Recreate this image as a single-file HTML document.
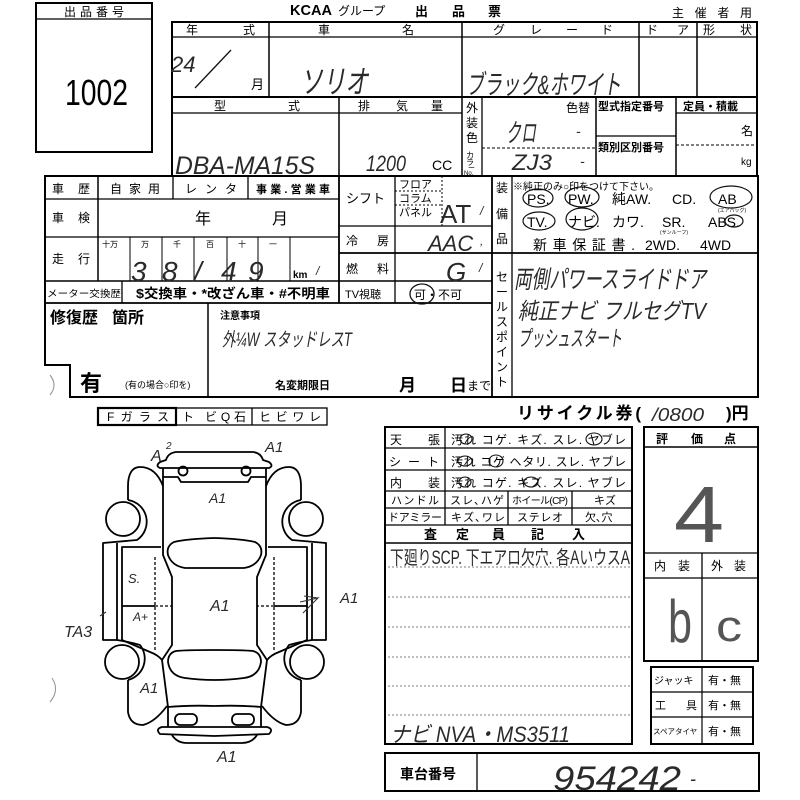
<!DOCTYPE html>
<html><head><meta charset="utf-8"><style>
html,body{margin:0;padding:0;background:#fff;width:800px;height:800px;overflow:hidden}
svg{display:block}
text{font-family:"Liberation Sans","Noto Sans CJK JP",sans-serif;fill:#000}
.p{font-size:12px}
.b{font-weight:bold}
.h text,.h{font-family:"Liberation Sans","Noto Sans CJK JP",sans-serif;font-style:italic;fill:#2a2a2a}
.big{fill:#555 !important}
</style></head><body>
<svg width="800" height="800" viewBox="0 0 800 800" xmlns="http://www.w3.org/2000/svg">
<g fill="none" stroke="#000">
<rect x="36" y="3" width="116" height="149" stroke-width="2"/>
<line x1="36" y1="19" x2="152" y2="19" stroke-width="1.3"/>
<rect x="172" y="22" width="585" height="154" stroke-width="2"/>
<line x1="172" y1="37" x2="757" y2="37" stroke-width="1.3"/>
<line x1="172" y1="97" x2="757" y2="97" stroke-width="2"/>
<line x1="172" y1="113" x2="462" y2="113" stroke-width="1.3"/>
<line x1="676" y1="113" x2="757" y2="113" stroke-width="1.3"/>
<line x1="596" y1="136" x2="676" y2="136" stroke-width="1.3"/>
<line x1="269" y1="22" x2="269" y2="97" stroke-width="1.5"/>
<line x1="462" y1="22" x2="462" y2="176" stroke-width="1.5"/>
<line x1="639" y1="22" x2="639" y2="97" stroke-width="1.5"/>
<line x1="697" y1="22" x2="697" y2="97" stroke-width="1.5"/>
<line x1="339" y1="97" x2="339" y2="176" stroke-width="1.5"/>
<line x1="482" y1="97" x2="482" y2="176" stroke-width="1.3"/>
<line x1="596" y1="97" x2="596" y2="176" stroke-width="1.5"/>
<line x1="676" y1="97" x2="676" y2="176" stroke-width="1.5"/>
<line x1="482" y1="148" x2="596" y2="148" stroke-width="1" stroke-dasharray="3,2"/>
<line x1="676" y1="145" x2="757" y2="145" stroke-width="1" stroke-dasharray="3,2"/>
<path d="M45,176 L758,176 L758,397 L70,397 L70,365 L45,365 Z" stroke-width="2"/>
<line x1="98" y1="176" x2="98" y2="281" stroke-width="1.5"/>
<line x1="173" y1="176" x2="173" y2="199" stroke-width="1.3"/>
<line x1="248" y1="176" x2="248" y2="199" stroke-width="1.3"/>
<line x1="339" y1="176" x2="339" y2="303" stroke-width="1.8"/>
<line x1="395" y1="176" x2="395" y2="303" stroke-width="1.3"/>
<line x1="492" y1="176" x2="492" y2="397" stroke-width="1.8"/>
<line x1="512" y1="176" x2="512" y2="397" stroke-width="1.3"/>
<line x1="122" y1="281" x2="122" y2="303" stroke-width="1.3"/>
<line x1="208" y1="303" x2="208" y2="397" stroke-width="1.5"/>
<line x1="45" y1="199" x2="339" y2="199" stroke-width="1.3"/>
<line x1="45" y1="237" x2="339" y2="237" stroke-width="1.3"/>
<line x1="45" y1="281" x2="492" y2="281" stroke-width="1.5"/>
<line x1="45" y1="303" x2="492" y2="303" stroke-width="1.8"/>
<line x1="339" y1="226" x2="492" y2="226" stroke-width="1.3"/>
<line x1="339" y1="253" x2="758" y2="253" stroke-width="1.8"/>
<line x1="130" y1="237" x2="130" y2="281" stroke-width="1"/>
<line x1="162" y1="237" x2="162" y2="281" stroke-width="1"/>
<line x1="194" y1="237" x2="194" y2="281" stroke-width="1"/>
<line x1="227" y1="237" x2="227" y2="281" stroke-width="1"/>
<line x1="258" y1="237" x2="258" y2="281" stroke-width="1"/>
<line x1="290" y1="237" x2="290" y2="281" stroke-width="1"/>
<line x1="442" y1="176" x2="442" y2="226" stroke-width="1" stroke-dasharray="2,2"/>
<line x1="395" y1="191" x2="442" y2="191" stroke-width="1" stroke-dasharray="2,2"/>
<line x1="395" y1="205" x2="442" y2="205" stroke-width="1" stroke-dasharray="2,2"/>
<rect x="98" y="408" width="229" height="17" stroke-width="1.3"/>
<rect x="98" y="408" width="78" height="17" stroke-width="2.2"/>
<line x1="252" y1="408" x2="252" y2="425" stroke-width="1.3"/>
<rect x="385" y="427" width="247" height="317" stroke-width="2"/>
<line x1="385" y1="448" x2="632" y2="448" stroke-width="1.3"/>
<line x1="385" y1="470" x2="632" y2="470" stroke-width="1.3"/>
<line x1="385" y1="491" x2="632" y2="491" stroke-width="1.3"/>
<line x1="385" y1="508" x2="632" y2="508" stroke-width="1.3"/>
<line x1="385" y1="525" x2="632" y2="525" stroke-width="1.3"/>
<line x1="385" y1="543" x2="632" y2="543" stroke-width="1.5"/>
<line x1="445" y1="427" x2="445" y2="525" stroke-width="1.3"/>
<line x1="508" y1="491" x2="508" y2="525" stroke-width="1.3"/>
<line x1="572" y1="491" x2="572" y2="525" stroke-width="1.3"/>
<g stroke-width="0.8" stroke="#555" stroke-dasharray="2,2">
<line x1="388" y1="567" x2="630" y2="567"/>
<line x1="388" y1="597" x2="630" y2="597"/>
<line x1="388" y1="627" x2="630" y2="627"/>
<line x1="388" y1="657" x2="630" y2="657"/>
<line x1="388" y1="686" x2="630" y2="686"/>
<line x1="388" y1="715" x2="630" y2="715"/>
</g>
<rect x="644" y="427" width="114" height="234" stroke-width="2"/>
<line x1="644" y1="447" x2="758" y2="447" stroke-width="1.5"/>
<line x1="644" y1="553" x2="758" y2="553" stroke-width="1.3"/>
<line x1="644" y1="578" x2="758" y2="578" stroke-width="1.3"/>
<line x1="702" y1="553" x2="702" y2="661" stroke-width="1.3"/>
<rect x="651" y="667" width="102" height="77" stroke-width="2"/>
<line x1="651" y1="692" x2="753" y2="692" stroke-width="1.2"/>
<line x1="651" y1="717" x2="753" y2="717" stroke-width="1.2"/>
<line x1="702" y1="667" x2="702" y2="744" stroke-width="1.2"/>
<rect x="385" y="753" width="374" height="38" stroke-width="2"/>
<line x1="477" y1="753" x2="477" y2="791" stroke-width="1.3"/>
</g>

<g fill="none" stroke="#000" stroke-width="1.8" stroke-linejoin="round">
<g id="half">
<path d="M214.5,452 L176,452 Q168,453 166,460 L160,462 Q155,466 160,468 L214.5,468"/>
<path d="M163,468 L163,555 L172,577 L172,645 L162,660 L168,707 L168,727"/>
<path d="M163,477 L178,477 L181,482 L214.5,482"/>
<circle cx="183" cy="471" r="4.5"/>
<path d="M163,486 C158,473 150,467 140,467 C131,467 128,476 128,486 L128,500"/>
<circle cx="123" cy="519" r="17"/>
<path d="M128,500 A22,22 0 0 1 137,540 L103,543 L103,640 L117,640 L117,543"/>
<path d="M161,547 L122,547 L122,640 Q136,646 150,652 Q158,655 162,660"/>
<path d="M117,640 Q130,642 140,645 A22,22 0 0 1 128,680"/>
<circle cx="122" cy="662" r="17"/>
<path d="M128,680 L128,712 Q130,725 143,725 Q155,722 167,706"/>
<path d="M168,707 Q190,705 214.5,706"/>
<rect x="175" y="714" width="22" height="11" rx="5"/>
<path d="M214.5,727 L162,727 Q155,729 160,734 L214.5,736"/>
<path d="M172,735 Q177,743 187,743 L214.5,743"/>
<path d="M214.5,650 Q186,650 176,651 Q168,653 168,662 Q170,676 185,678 Q200,680 214.5,680"/>
<path d="M214.5,538 Q186,539 174,542 Q166,546 168,555 Q172,566 185,568 L214.5,568"/>
<line x1="122" y1="606" x2="155" y2="606"/>
<line x1="155" y1="606" x2="172" y2="606" stroke-dasharray="3,2" stroke-width="1.3"/>
<line x1="155" y1="557" x2="155" y2="652" stroke-dasharray="3,2" stroke-width="1.3"/>
</g>
<use href="#half" transform="translate(429,0) scale(-1,1)"/>
</g>

<text x="290" y="15" class="b" font-size="15" textLength="42" lengthAdjust="spacingAndGlyphs">KCAA</text>
<text x="338" y="15" font-size="12">グループ</text>
<text x="415" y="16" class="b" font-size="13">出</text>
<text x="452" y="16" class="b" font-size="13">品</text>
<text x="488" y="16" class="b" font-size="13">票</text>
<text x="672" y="17" font-size="12" textLength="80">主催者用</text>
<text x="94" y="16" font-size="12" text-anchor="middle" textLength="60">出品番号</text>
<text x="65" y="105" font-size="36" textLength="63" lengthAdjust="spacingAndGlyphs">1002</text>

<g font-size="12">
<text x="186" y="34">年</text><text x="243" y="34">式</text>
<text x="318" y="34">車</text><text x="402" y="34">名</text>
<text x="493" y="34">グ</text><text x="530" y="34">レ</text><text x="566" y="34">ー</text><text x="601" y="34">ド</text>
<text x="646" y="34">ド</text><text x="677" y="34">ア</text>
<text x="703" y="34">形</text><text x="740" y="34">状</text>
<text x="214" y="110">型</text><text x="288" y="110">式</text>
<text x="358" y="110">排</text><text x="396" y="110">気</text><text x="431" y="110">量</text>
<text x="466" y="112">外</text><text x="466" y="127">装</text><text x="466" y="142">色</text>
<text x="566" y="112">色替</text>
<text x="598" y="110" font-size="11" class="b">型式指定番号</text>
<text x="598" y="151" font-size="11" class="b">類別区別番号</text>
<text x="683" y="110" font-size="11" class="b">定員・積載</text>
<text x="741" y="135">名</text>
<text x="741" y="165" font-size="10">kg</text>
<text x="432" y="170" font-size="14">CC</text>
</g>
<text x="466" y="158" font-size="8">カ</text><text x="466" y="165" font-size="8">ラ</text><text x="468" y="170" font-size="7">ー</text><text x="464" y="175" font-size="6">No.</text>

<g class="h">
<text x="171" y="72" font-size="22">24</text>
<text x="251" y="89" font-size="13" style="font-style:normal;fill:#000">月</text>
<text x="300" y="93" font-size="32" textLength="68" lengthAdjust="spacingAndGlyphs">ソリオ</text>
<text x="466" y="94" font-size="27" textLength="155" lengthAdjust="spacingAndGlyphs">ブラック&amp;ホワイト</text>
<text x="175" y="174" font-size="25" textLength="140" lengthAdjust="spacingAndGlyphs">DBA-MA15S</text>
<text x="366" y="171" font-size="22" textLength="40" lengthAdjust="spacingAndGlyphs">1200</text>
<text x="506" y="142" font-size="26" textLength="30" lengthAdjust="spacingAndGlyphs">クロ</text>
<text x="512" y="170" font-size="22" textLength="40" lengthAdjust="spacingAndGlyphs">ZJ3</text>
<text x="576" y="136" font-size="14">-</text><text x="580" y="166" font-size="14">-</text>
</g>
<line x1="195" y1="88" x2="231" y2="50" stroke="#111" stroke-width="1.3"/>

<g font-size="12">
<text x="52" y="193">車</text><text x="78" y="193">歴</text>
<text x="110" y="193" textLength="50">自家用</text>
<text x="185" y="193" textLength="52">レンタ</text>
<text x="256" y="193" font-size="11" class="b" textLength="74">事業.営業車</text>
<text x="52" y="222">車</text><text x="78" y="222">検</text>
<text x="195" y="224" font-size="16">年</text><text x="272" y="224" font-size="16">月</text>
<text x="52" y="263">走</text><text x="78" y="263">行</text>
<text x="102" y="247" font-size="8">十万</text>
<text x="141" y="247" font-size="8">万</text>
<text x="173" y="247" font-size="8">千</text>
<text x="206" y="247" font-size="8">百</text>
<text x="238" y="247" font-size="8">十</text>
<text x="269" y="247" font-size="8">一</text>
<text x="293" y="278" font-size="10" class="b">km</text>
<text x="47" y="297" font-size="9.5" textLength="74" lengthAdjust="spacingAndGlyphs">メーター交換歴</text>
<text x="136" y="298" font-size="13" textLength="194" class="b" lengthAdjust="spacingAndGlyphs">$交換車・*改ざん車・#不明車</text>
<text x="50" y="323" font-size="16" class="b">修復歴</text><text x="112" y="323" font-size="16" class="b">箇所</text>
<text x="80" y="391" font-size="22" class="b">有</text>
<text x="125" y="388" font-size="9">(有の場合○印を)</text>
<text x="220" y="319" font-size="10" class="b">注意事項</text>
<text x="275" y="389" font-size="11" class="b">名変期限日</text>
<text x="399" y="391" font-size="17" class="b">月</text>
<text x="450" y="391" font-size="17" class="b">日</text><text x="467" y="390" font-size="12">まで</text>
<text x="346" y="203" font-size="13">シフト</text>
<text x="399" y="188" font-size="11">フロア</text>
<text x="399" y="202" font-size="11">コラム</text>
<text x="399" y="216" font-size="11">パネル</text>
<text x="346" y="245">冷</text><text x="377" y="245">房</text>
<text x="346" y="273">燃</text><text x="377" y="273">料</text>
<text x="345" y="298" font-size="11">TV視聴</text>
<text x="414" y="299" font-size="12">可・不可</text>
</g>
<g class="h">
<text x="131" y="281" font-size="28">3</text>
<text x="162" y="281" font-size="28">8</text>
<text x="194" y="281" font-size="28">/</text>
<text x="221" y="281" font-size="28">4</text>
<text x="248" y="281" font-size="28">9</text>
<text x="316" y="275" font-size="12">/</text>
<text x="440" y="223" font-size="26" style="font-style:normal">AT</text>
<text x="480" y="215" font-size="12">/</text>
<text x="428" y="251" font-size="22">AAC</text>
<text x="480" y="245" font-size="12">,</text>
<text x="446" y="281" font-size="26">G</text>
<text x="479" y="272" font-size="12">/</text>
<text x="222" y="346" font-size="19" textLength="130" lengthAdjust="spacingAndGlyphs">外¼W スタッドレスT</text>
</g>
<ellipse cx="422" cy="294" rx="12" ry="10" fill="none" stroke="#111" stroke-width="1.3"/>

<g font-size="12">
<text x="496" y="192">装</text><text x="496" y="218">備</text><text x="496" y="243">品</text>
<text x="513" y="190" font-size="10">※純正のみ○印をつけて下さい。</text>
<text x="527" y="204" font-size="14">PS.</text>
<text x="568" y="204" font-size="14">PW.</text>
<text x="612" y="204" font-size="14">純AW.</text>
<text x="672" y="204" font-size="14">CD.</text>
<text x="718" y="204" font-size="14">AB</text>
<text x="718" y="212" font-size="5">(エアバッグ)</text>
<text x="527" y="227" font-size="14">TV.</text>
<text x="568" y="227" font-size="14">ナビ.</text>
<text x="612" y="227" font-size="14">カワ.</text>
<text x="662" y="227" font-size="14">SR.</text>
<text x="708" y="227" font-size="14">ABS.</text>
<text x="660" y="234" font-size="5">(サンルーフ)</text>
<text x="533" y="250" font-size="14" textLength="102">新車保証書.</text>
<text x="645" y="250" font-size="14">2WD.</text>
<text x="700" y="250" font-size="14">4WD</text>
<text x="496" y="281">セ</text><text x="496" y="296">ー</text><text x="496" y="311">ル</text><text x="496" y="326">ス</text>
<text x="496" y="341">ポ</text><text x="496" y="356">イ</text><text x="496" y="371">ン</text><text x="496" y="386">ト</text>
</g>
<g fill="none" stroke="#111" stroke-width="1.2">
<ellipse cx="538" cy="198" rx="15" ry="9"/>
<ellipse cx="582" cy="197" rx="17" ry="10"/>
<ellipse cx="539" cy="221" rx="16" ry="9"/>
<ellipse cx="582" cy="219" rx="16" ry="11"/>
<ellipse cx="731" cy="197" rx="21" ry="11"/>
<ellipse cx="734" cy="221" rx="9" ry="6"/>
</g>
<g class="h" style="font-style:normal">
<text x="514" y="288" font-size="25" textLength="192" lengthAdjust="spacingAndGlyphs">両側パワースライドドア</text>
<text x="518" y="319" font-size="23" textLength="188" lengthAdjust="spacingAndGlyphs">純正ナビ フルセグTV</text>
<text x="518" y="346" font-size="22" textLength="104" lengthAdjust="spacingAndGlyphs">プッシュスタート</text>
</g>

<g font-size="12">
<text x="107" y="421" textLength="62">Fガラス</text>
<text x="182" y="421" textLength="64">ト ビQ石</text>
<text x="259" y="421" textLength="62">ヒビワレ</text>
<text x="517" y="419" font-size="17" class="b" textLength="124">リサイクル券(</text>
<text x="726" y="419" font-size="17" class="b">)円</text>
<text x="390" y="444">天</text><text x="428" y="444">張</text>
<text x="451" y="444" textLength="175">汚れ コゲ. キズ. スレ. ヤブレ</text>
<text x="389" y="466" textLength="50">シート</text>
<text x="451" y="466" textLength="175">汚れ コゲ ヘタリ. スレ. ヤブレ</text>
<text x="390" y="487">内</text><text x="428" y="487">装</text>
<text x="451" y="487" textLength="175">汚れ コゲ. キズ. スレ. ヤブレ</text>
<text x="391" y="504" font-size="11" textLength="48">ハンドル</text>
<text x="450" y="504" font-size="11" textLength="54">スレ､ハゲ</text>
<text x="512" y="504" font-size="10" textLength="56">ホイール(CP)</text>
<text x="594" y="504" font-size="11">キズ</text>
<text x="388" y="521" font-size="11" textLength="54">ドアミラー</text>
<text x="451" y="521" font-size="11" textLength="54">キズ､ワレ</text>
<text x="517" y="521" font-size="11" textLength="46">ステレオ</text>
<text x="585" y="521" font-size="11">欠､穴</text>
<text x="424" y="539" font-size="13" class="b">査</text>
<text x="456" y="539" font-size="13" class="b">定</text>
<text x="492" y="539" font-size="13" class="b">員</text>
<text x="531" y="539" font-size="13" class="b">記</text>
<text x="572" y="539" font-size="13" class="b">入</text>
<text x="656" y="443" class="b">評</text><text x="691" y="443" class="b">価</text><text x="724" y="443" class="b">点</text>
<text x="654" y="570">内</text><text x="678" y="570">装</text>
<text x="711" y="570">外</text><text x="734" y="570">装</text>
<text x="654" y="684" font-size="10">ジャッキ</text>
<text x="708" y="684" font-size="11">有・無</text>
<text x="655" y="709" font-size="11">工</text><text x="686" y="709" font-size="11">具</text>
<text x="708" y="709" font-size="11">有・無</text>
<text x="653" y="734" font-size="7.5">スペアタイヤ</text>
<text x="708" y="735" font-size="11">有・無</text>
<text x="400" y="779" font-size="14" class="b">車台番号</text>
</g>
<g fill="none" stroke="#111" stroke-width="1.1">
<ellipse cx="466" cy="439" rx="6" ry="5"/>
<ellipse cx="594" cy="439" rx="8" ry="6"/>
<ellipse cx="465" cy="461" rx="7" ry="5"/>
<ellipse cx="496" cy="461" rx="7" ry="6"/>
<ellipse cx="465" cy="482" rx="6" ry="5"/>
<ellipse cx="531" cy="482" rx="7" ry="5"/>
</g>
<g class="h">
<text x="652" y="421" font-size="18" textLength="52" lengthAdjust="spacingAndGlyphs">/0800</text>
<text x="390" y="564" font-size="19" textLength="240" lengthAdjust="spacingAndGlyphs" style="font-style:normal">下廻りSCP. 下エアロ欠穴. 各AいウスA</text>
<text x="390" y="742" font-size="22" textLength="180" lengthAdjust="spacingAndGlyphs">ナビ NVA・MS3511</text>
<text class="big" x="674" y="542" font-size="80" textLength="50" lengthAdjust="spacingAndGlyphs" style="font-style:normal">4</text>
<text class="big" x="668" y="642" font-size="60" textLength="24" lengthAdjust="spacingAndGlyphs" style="font-style:normal">b</text>
<text class="big" x="716" y="641" font-size="44" textLength="26" lengthAdjust="spacingAndGlyphs" style="font-style:normal">c</text>
<text x="553" y="790" font-size="34" textLength="128" lengthAdjust="spacingAndGlyphs">954242</text>
<text x="690" y="785" font-size="18">-</text>
<text x="151" y="461" font-size="16">A</text><text x="166" y="449" font-size="10">2</text>
<text x="265" y="452" font-size="15">A1</text>
<text x="209" y="503" font-size="14">A1</text>
<text x="128" y="583" font-size="13">S.</text>
<text x="133" y="621" font-size="12">A+</text>
<text x="210" y="611" font-size="16">A1</text>
<text x="340" y="603" font-size="15">A1</text>
<text x="64" y="637" font-size="16">TA3</text>
<text x="140" y="693" font-size="15">A1</text>
<text x="217" y="762" font-size="16">A1</text>
</g>
<g fill="none" stroke="#333" stroke-width="1.1">
<path d="M300,602 L318,598 L303,613"/>
<path d="M304,596 L318,598"/>
<path d="M100,616 L106,612"/>
<path d="M52,678 Q60,690 50,702" stroke="#999"/>
<path d="M50,375 Q58,385 50,395" stroke="#999"/>
</g>
</svg>
</body></html>
